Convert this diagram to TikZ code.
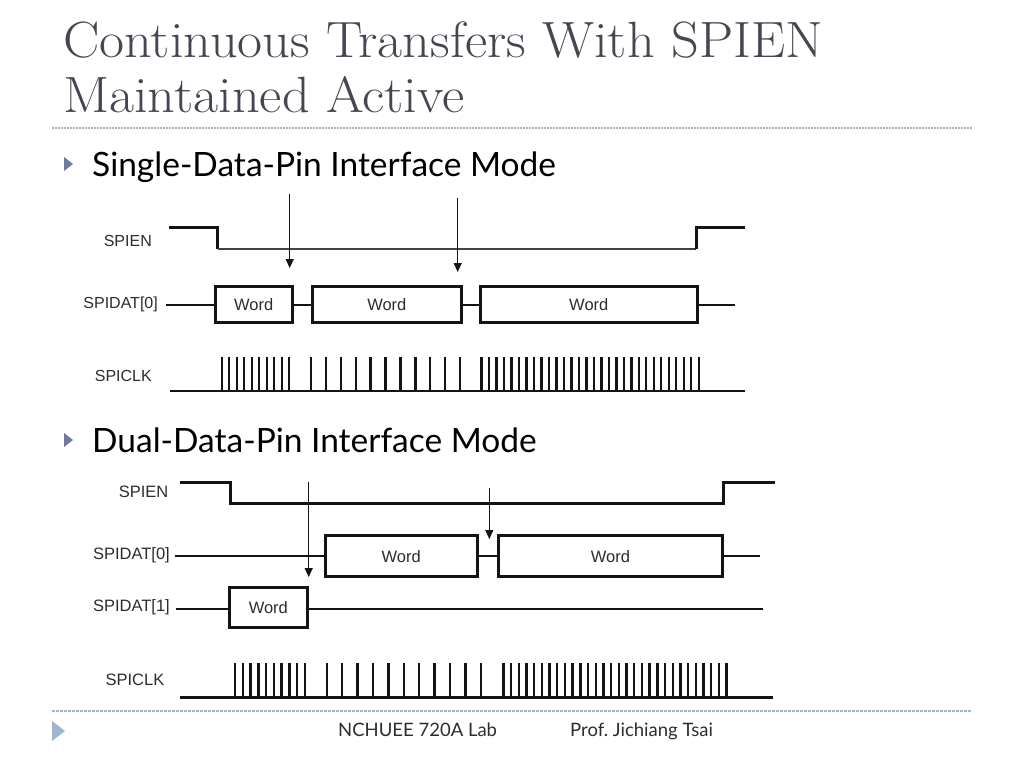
\documentclass[tikz,border=0pt]{standalone}
\usepackage{fontspec}
\newfontfamily\bodyfont{Lato}
\newfontfamily\sigfont{Liberation Sans}
\usetikzlibrary{arrows.meta}
\frenchspacing
\definecolor{titlegray}{RGB}{70,70,82}
\definecolor{bulletblue}{RGB}{110,122,158}
\definecolor{footblue}{RGB}{158,182,206}
\definecolor{sigink}{RGB}{20,20,20}
\definecolor{labelgray}{RGB}{45,45,45}
\tikzset{
  titletext/.style={anchor=base west, inner sep=0pt, text=titlegray, font=\fontsize{51}{55}\selectfont},
  bullettext/.style={anchor=base west, inner sep=0pt, text=black, font=\bodyfont\fontsize{33.5}{36}\selectfont},
  foottext/.style={anchor=base west, inner sep=0pt, text=labelgray, font=\bodyfont\fontsize{18.5}{20}\selectfont},
  siglabel/.style={anchor=east, inner sep=0pt, text=labelgray, font=\sigfont\fontsize{16}{18}\selectfont},
  siglabelb/.style={anchor=east, inner sep=0pt, text=labelgray, font=\sigfont\fontsize{16.5}{18}\selectfont},
  wordbox/.style={draw=sigink, line width=3pt, inner sep=0pt, text=labelgray, font=\sigfont\fontsize{16.5}{18}\selectfont},
  thickline/.style={draw=sigink, line width=3pt},
  thinline/.style={draw=sigink, line width=2pt},
  lowline/.style={draw=sigink!80, line width=1.8pt},
  pulse/.style={draw=sigink, line width=2.4pt},
  basel/.style={draw=sigink, line width=2.6pt},
  marker/.style={draw=sigink, line width=1.2pt, -{Triangle[length=9pt,width=8pt]}},
}
\begin{document}
\begin{tikzpicture}[x=1pt,y=-1pt]
\useasboundingbox (0,0) rectangle (1024,768);
\fill[white] (0,0) rectangle (1024,768);

% title
\node[titletext] (t1) at (63,57) {\scalebox{1.066}[1]{Continuous Transfers With SPIEN}};
\node[titletext] (t2) at (63,112) {\scalebox{1.066}[1]{Maintained Active}};
\draw[draw=black!30, line width=1.2pt, dash pattern=on 1.5pt off 1.5pt] (52,128) -- (972,128);

% bullet 1
\fill[bulletblue] (64,157) -- (73,164) -- (64,171) -- cycle;
\node[bullettext] (b1) at (92,176) {Single-Data-Pin Interface Mode};

% ---------------- top diagram ----------------
\node[siglabel] (l1) at (152,241) {SPIEN};
\node[siglabel] (l2) at (158,304) {SPIDAT[0]};
\node[siglabel] (l3) at (152,376) {SPICLK};

% SPIEN
\draw[thickline] (169,227.7) -- (217.7,227.7) -- (217.7,249);
\draw[lowline] (217.7,249) -- (696,249);
\draw[thickline] (696,249) -- (696,227.7) -- (745,227.7);

% SPIDAT[0]
\node[wordbox, minimum width=77.3pt, minimum height=36pt] (w1) at (253.65,304.7) {Word};
\node[wordbox, minimum width=148.3pt, minimum height=36pt] (w2) at (386.85,304.7) {Word};
\node[wordbox, minimum width=217pt, minimum height=36pt] (w3) at (588.8,304.7) {Word};
\coordinate (d0s) at (166,304.7);
\coordinate (d0e) at (735,304.7);
\draw[thinline] (d0s) -- (w1.west);
\draw[thinline] (w1.east) -- (w2.west);
\draw[thinline] (w2.east) -- (w3.west);
\draw[thinline] (w3.east) -- (d0e);

% markers
\coordinate (a1s) at (289.7,194);
\coordinate (a1e) at (289.7,268);
\coordinate (a2s) at (457.7,198);
\coordinate (a2e) at (457.7,272);
\draw[marker] (a1s) -- (a1e);
\draw[marker] (a2s) -- (a2e);

% SPICLK
\draw[basel] (170,391) -- (745,391);
\foreach \i in {0,...,9} \draw[pulse] ({221.7+\i*7.51},391) -- ({221.7+\i*7.51},356.5);
\foreach \i in {0,...,10} \draw[pulse] ({311+\i*14.9},391) -- ({311+\i*14.9},356.5);
\foreach \i in {0,...,29} \draw[pulse] ({481.5+\i*7.49},391) -- ({481.5+\i*7.49},356.5);

% bullet 2
\fill[bulletblue] (64,433) -- (73,440) -- (64,447) -- cycle;
\node[bullettext] (b2) at (92,452) {Dual-Data-Pin Interface Mode};

% ---------------- bottom diagram ----------------
\node[siglabelb] (m1) at (168.5,492) {SPIEN};
\node[siglabelb] (m2) at (170,555) {SPIDAT[0]};
\node[siglabelb] (m3) at (170,607) {SPIDAT[1]};
\node[siglabelb] (m4) at (164.5,680) {SPICLK};

% SPIEN
\draw[thickline] (180,482.7) -- (230,482.7) -- (230,503.3) -- (723.3,503.3) -- (723.3,482.7) -- (775,482.7);

% SPIDAT[0]
\node[wordbox, minimum width=152.3pt, minimum height=41pt] (v1) at (401.15,556.2) {Word};
\node[wordbox, minimum width=224.4pt, minimum height=41pt] (v2) at (610.5,556.2) {Word};
\coordinate (e0s) at (175,556.2);
\coordinate (e0e) at (760,556.2);
\draw[thinline] (e0s) -- (v1.west);
\draw[thinline] (v1.east) -- (v2.west);
\draw[thinline] (v2.east) -- (e0e);

% SPIDAT[1]
\node[wordbox, minimum width=78.7pt, minimum height=40.4pt] (u1) at (268.35,607.5) {Word};
\coordinate (e1s) at (175.7,608.5);
\coordinate (e1e) at (763.3,608.5);
\draw[thinline] (e1s) -- (u1.west |- e1s);
\draw[thinline] (u1.east |- e1e) -- (e1e);

% markers
\coordinate (c1s) at (308.7,481.7);
\coordinate (c1e) at (308.7,577);
\coordinate (c2s) at (489.3,488);
\coordinate (c2e) at (489.3,539);
\draw[marker] (c1s) -- (c1e);
\draw[marker] (c2s) -- (c2e);

% SPICLK
\draw[basel] (180,697.7) -- (773,697.7);
\foreach \i in {0,...,9} \draw[pulse] ({235+\i*7.78},697.7) -- ({235+\i*7.78},663.3);
\foreach \i in {0,...,10} \draw[pulse] ({326.7+\i*15.4},697.7) -- ({326.7+\i*15.4},663.3);
\foreach \i in {0,...,29} \draw[pulse] ({503.3+\i*7.70},697.7) -- ({503.3+\i*7.70},663.3);

% footer
\draw[draw=footblue, line width=1.2pt, dash pattern=on 2.5pt off 1.5pt] (52,711) -- (972,711);
\fill[footblue] (52,721) -- (65,731) -- (52,741) -- cycle;
\node[foottext] (f1) at (338,736) {NCHUEE 720A Lab};
\node[foottext] (f2) at (570,736) {Prof. Jichiang Tsai};
\end{tikzpicture}
\end{document}
